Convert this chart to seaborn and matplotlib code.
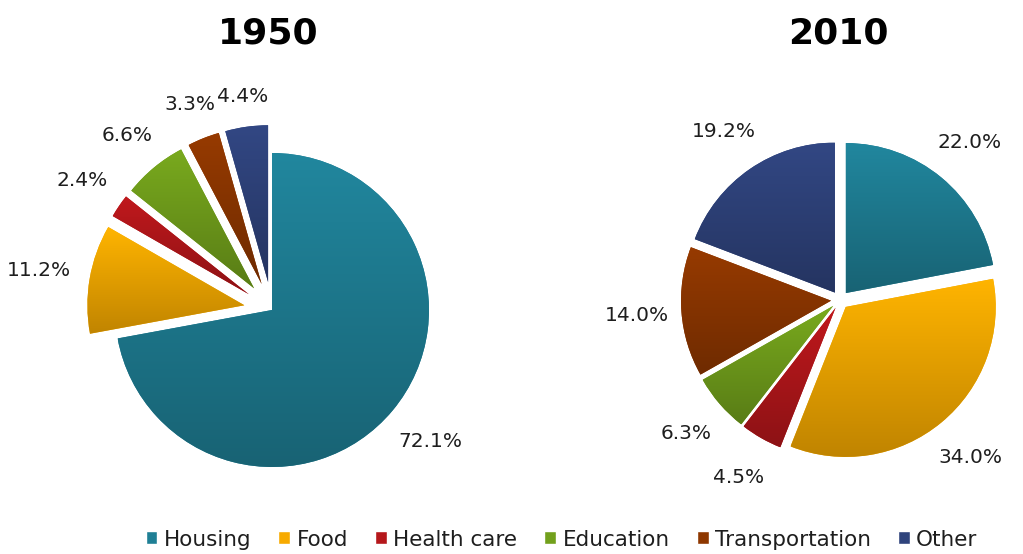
import numpy as np
import matplotlib
matplotlib.use("Agg")
from matplotlib import pyplot as plt
from matplotlib.colors import to_rgb
from matplotlib.patches import Patch
import seaborn as sns

# Data
categories = ["Housing", "Food", "Health care", "Education", "Transportation", "Other"]
share_1950 = [72.1, 11.2, 2.4, 6.6, 3.3, 4.4]
share_2010 = [22.0, 34.0, 4.5, 6.3, 14.0, 19.2]
years = ["1950", "2010"]

colors = ["#1f7f95", "#f7aa00", "#b5171b", "#72a01c", "#8e3700", "#2f437c"]

sns.set_style("white")
plt.rcParams["font.family"] = ["DejaVu Sans"]

fig = plt.figure(figsize=(10.23, 5.54), dpi=100)
# one axes over the whole figure, 1 data unit = 1 pixel
ax = fig.add_axes([0, 0, 1, 1])


def shade(wedges, cols):
    # vertical gradient inside each wedge, lighter on top
    for w, c in zip(wedges, cols):
        rgb = np.array(to_rgb(c))
        top = np.clip(rgb * 1.06, 0, 1)
        bot = rgb * 0.78
        t = np.linspace(0, 1, 64)[:, None]
        grad = (top * (1 - t) + bot * t)[:, None, :]
        bb = w.get_path().get_extents(w.get_patch_transform())
        im = ax.imshow(grad, extent=[bb.x0, bb.x1, bb.y0, bb.y1],
                       origin="upper", aspect="auto", zorder=2, interpolation="bilinear")
        im.set_clip_path(w)


def place_labels(wedges, texts, radius, pad):
    # put each label just outside the slice, like "outside end"
    r = fig.canvas.get_renderer()
    for w, t in zip(wedges, texts):
        ang = np.deg2rad((w.theta1 + w.theta2) / 2)
        bb = t.get_window_extent(r)
        c, s = np.cos(ang), np.sin(ang)
        d = radius + pad + abs(c) * bb.width / 2 + abs(s) * bb.height / 2
        t.set_position((w.center[0] + d * c, w.center[1] + d * s))


label_style = dict(fontsize=14.5, color="#1e1e1e")

# 1950 pie: housing stays, the rest pulled out
wedges, _, autotexts = ax.pie(
    share_1950, colors=colors, startangle=90, counterclock=False,
    center=(272, 244), radius=157, explode=[0, 28, 28, 28, 28, 28],
    autopct="%.1f%%", frame=True,
    wedgeprops=dict(linewidth=0), textprops=label_style)
shade(wedges, colors)

# 2010 pie: every slice slightly pulled out
wedges2, _, autotexts2 = ax.pie(
    share_2010, colors=colors, startangle=90, counterclock=False,
    center=(840, 254), radius=150, explode=[9] * 6,
    autopct="%.1f%%", pctdistance=1.3, frame=True,
    wedgeprops=dict(linewidth=0), textprops=label_style)
shade(wedges2, colors)

ax.set_xlim(0, 1023)
ax.set_ylim(0, 554)
ax.set_aspect("equal")
ax.axis("off")

fig.canvas.draw()
place_labels(wedges, autotexts, 157, 18)

ax.text(268, 521, years[0], fontsize=26, fontweight="bold", ha="center", va="center", color="black")
ax.text(838, 521, years[1], fontsize=26, fontweight="bold", ha="center", va="center", color="black")

handles = [Patch(facecolor=c, label=l) for c, l in zip(colors, categories)]
fig.legend(handles=handles, loc="center", bbox_to_anchor=(0.549, 0.026), ncol=6,
           frameon=False, fontsize=15.5, handlelength=0.55, handleheight=0.55,
           handletextpad=0.3, columnspacing=1.25, labelcolor="#1e1e1e")

fig.savefig("out.png", dpi=100)
